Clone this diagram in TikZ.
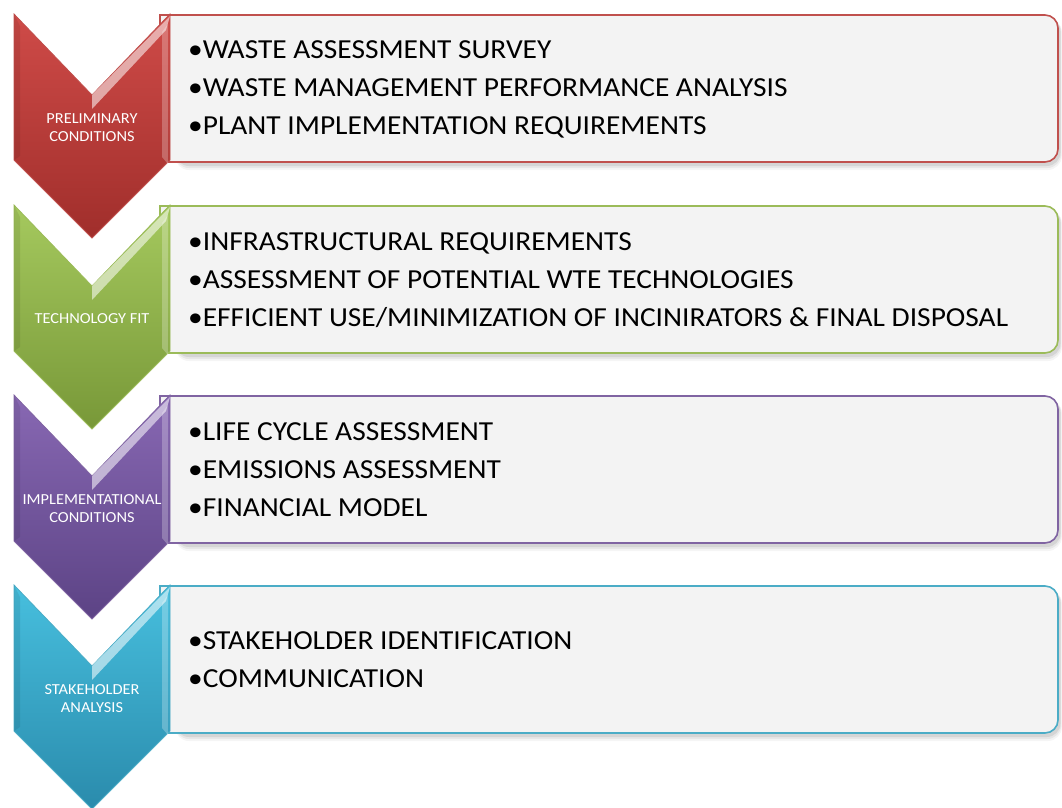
\documentclass[tikz,border=0pt]{standalone}
\usepackage{fontspec}
\setmainfont{Carlito}
\newfontfamily\widefont[FakeStretch=1.07]{Carlito}

\definecolor{redTop}{HTML}{CF4B48}
\definecolor{redBot}{HTML}{A02E2B}
\definecolor{redLine}{HTML}{C0504D}
\definecolor{grnTop}{HTML}{A5C95E}
\definecolor{grnBot}{HTML}{789838}
\definecolor{grnLine}{HTML}{9BBB59}
\definecolor{purTop}{HTML}{8868B3}
\definecolor{purBot}{HTML}{5C4385}
\definecolor{purLine}{HTML}{8064A2}
\definecolor{bluTop}{HTML}{47BFDE}
\definecolor{bluBot}{HTML}{2A8BAC}
\definecolor{bluLine}{HTML}{4BACC6}
\definecolor{boxFill}{HTML}{F3F3F3}

\tikzset{
  chevlabel/.style={text=white, align=center, font=\widefont\fontsize{15.3}{18}\selectfont, inner sep=0pt},
  itemlist/.style={text=black, align=left, anchor=west, font=\widefont\fontsize{27.5}{38}\selectfont, inner sep=0pt},
  itembox/.style={fill=boxFill, line width=1.6pt},
}

% #1 top y, #2 top colour, #3 bottom colour, #4 line colour,
% #5 node prefix, #6 chevron label, #7 item list
\newcommand\drawstage[7]{%
  % soft shadow under the text box
  \foreach \s/\o in {6/0.04,4/0.06,2/0.08}{
    \fill[black, opacity=\o, rounded corners=14pt]
      (175,#1+4) -- (1060+\s*0.3,#1+4) -- (1060+\s*0.3,#1+150+\s) -- (175,#1+150+\s) -- cycle;
  }
  % text box, square on the left, rounded on the right
  \path[itembox, draw=#4]
    (160,#1+1) [rounded corners=13pt] -- (1058,#1+1) -- (1058,#1+148)
    [sharp corners] -- (160,#1+148) -- cycle;
  % chevron
  \shade[top color=#2, bottom color=#3, draw=#4, line width=0.8pt]
    (14,#1) -- (92,#1+81) -- (170,#1) -- (170,#1+146)
    -- (92,#1+224) -- (14,#1+146) -- cycle;
  % bevel highlights
  \fill[white, opacity=0.55]
    (92,#1+81) -- (170,#1+2) -- (166,#1+16) -- (92,#1+95) -- cycle;
  \fill[white, opacity=0.25]
    (162,#1+18) -- (168,#1+10) -- (168,#1+150) -- (162,#1+143) -- cycle;
  \fill[black, opacity=0.08]
    (14,#1) -- (20,#1+12) -- (20,#1+142) -- (14,#1+146) -- cycle;
  \node[chevlabel] (#5label) at (92,#1+114) {#6};
  \node[itemlist] (#5items) at (188,#1+75) {#7};
}

\begin{document}
\begin{tikzpicture}[x=1pt, y=-1pt]
  \useasboundingbox (0,0) rectangle (1062,807);

  \drawstage{14}{redTop}{redBot}{redLine}{pre}{PRELIMINARY\\CONDITIONS}
    {•WASTE ASSESSMENT SURVEY\\•WASTE MANAGEMENT PERFORMANCE ANALYSIS\\•PLANT IMPLEMENTATION REQUIREMENTS}

  \drawstage{205}{grnTop}{grnBot}{grnLine}{tech}{TECHNOLOGY FIT}
    {•INFRASTRUCTURAL REQUIREMENTS\\•ASSESSMENT OF POTENTIAL WTE TECHNOLOGIES\\•EFFICIENT USE/MINIMIZATION OF INCINIRATORS \& FINAL DISPOSAL}

  \drawstage{395}{purTop}{purBot}{purLine}{impl}{IMPLEMENTATIONAL\\CONDITIONS}
    {•LIFE CYCLE ASSESSMENT\\•EMISSIONS ASSESSMENT\\•FINANCIAL MODEL}

  \drawstage{585}{bluTop}{bluBot}{bluLine}{stake}{STAKEHOLDER\\ANALYSIS}
    {•STAKEHOLDER IDENTIFICATION\\•COMMUNICATION}
\end{tikzpicture}
\end{document}
